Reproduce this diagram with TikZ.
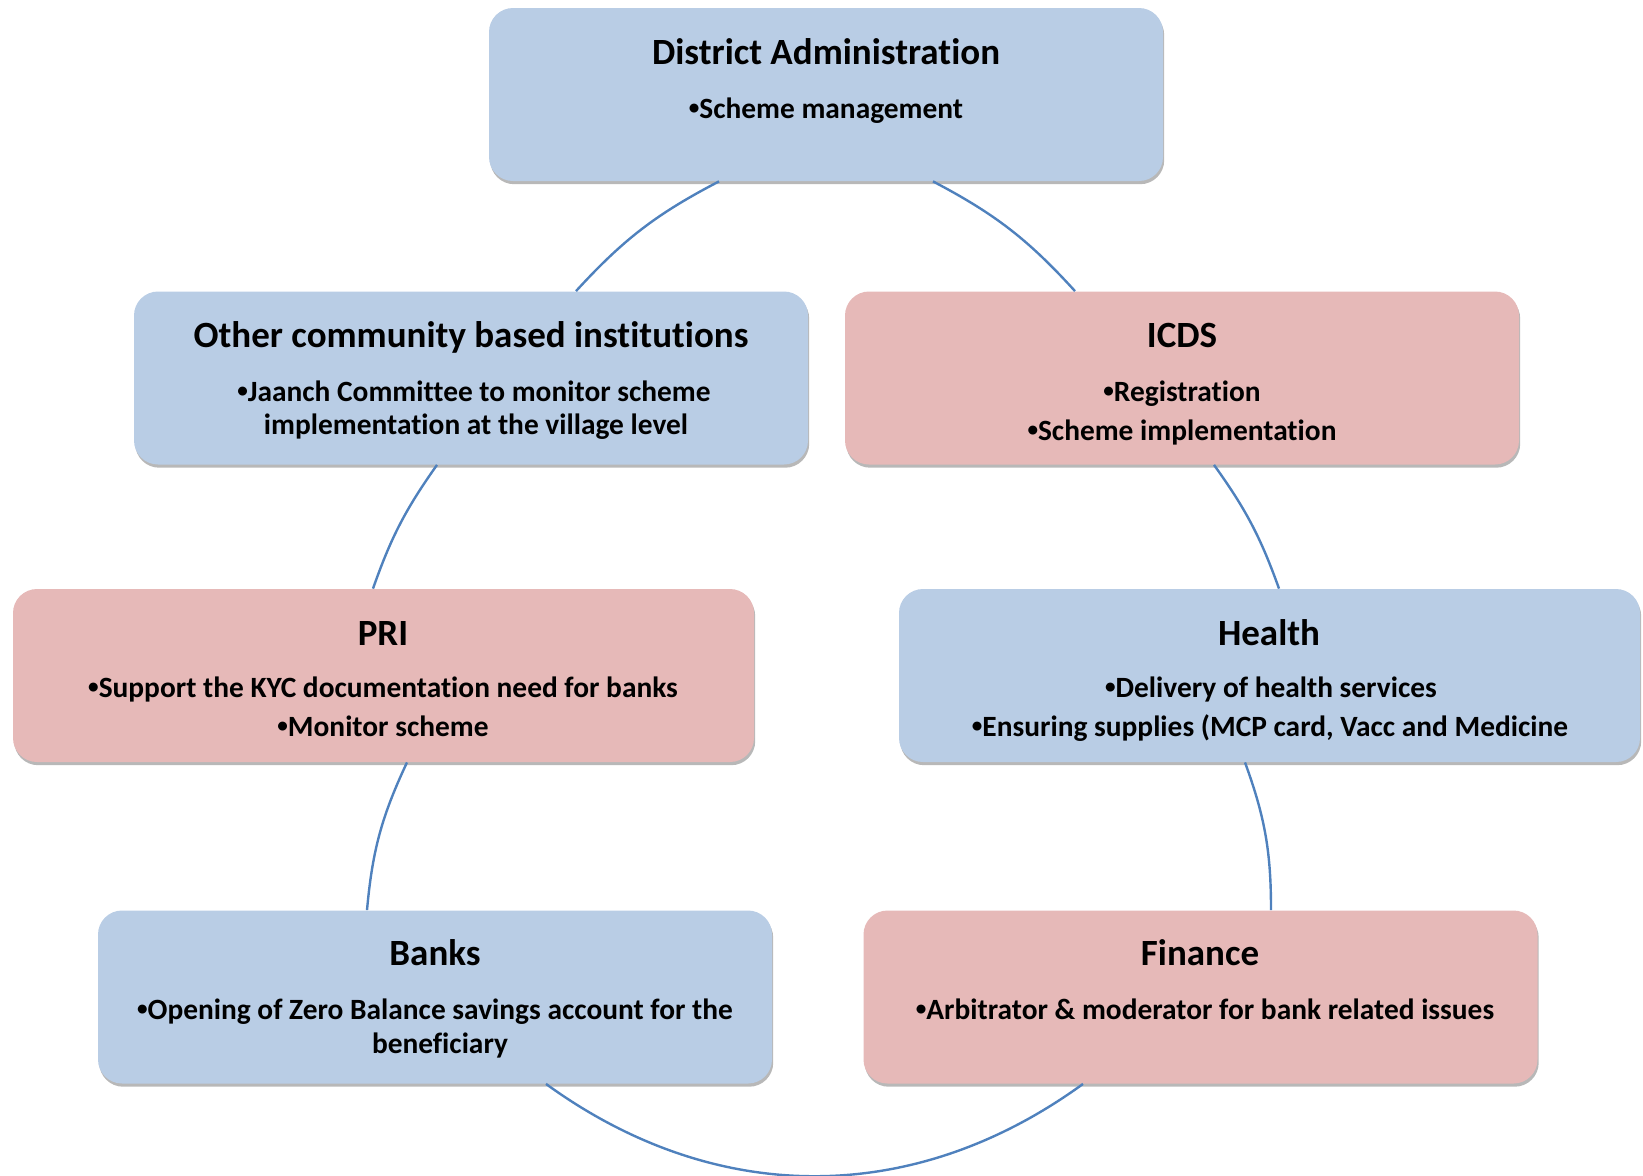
\documentclass[tikz,border=0pt]{standalone}
\usepackage{fontspec}
\setmainfont{Carlito}[Ligatures={TeX,NoCommon}, RawFeature={-liga;-calt;-dlig}]
\usetikzlibrary{shadows,calc}
\definecolor{boxblue}{HTML}{B9CDE5}
\definecolor{boxpink}{HTML}{E6B9B8}
\definecolor{linkblue}{HTML}{4F81BD}
\newcommand\bul{\raisebox{0.12em}{\scalebox{0.72}{•}}}
\tikzset{
  card/.style={rectangle, rounded corners=12pt, inner sep=0pt, draw=none,
    drop shadow={shadow xshift=0.6pt, shadow yshift=-1.6pt, fill=black, opacity=0.28}},
  bluecard/.style={card, fill=boxblue},
  pinkcard/.style={card, fill=boxpink},
  wide/.style={minimum width=337pt, minimum height=86.5pt},
  wider/.style={minimum width=370.5pt, minimum height=86.5pt},
  ttl/.style={anchor=base, inner sep=0pt, font=\fontsize{18.5}{22}\selectfont\bfseries},
  bdy/.style={anchor=base, inner sep=0pt, font=\fontsize{14.7}{17}\selectfont\bfseries},
  link/.style={draw=linkblue, line width=1.2pt}
}
\begin{document}
\begin{tikzpicture}[x=0.5pt,y=-0.5pt]
\useasboundingbox (0,0) rectangle (1643,1175);
% boxes
\node[bluecard, wide] (dist) at (826,94.5) {};
\node[bluecard, wide] (other) at (471,378) {};
\node[pinkcard, wide] (icds) at (1182,378) {};
\node[pinkcard, wider] (pri) at (383.5,675.5) {};
\node[bluecard, wider] (health) at (1269.5,675.5) {};
\node[bluecard, wide] (banks) at (435,997) {};
\node[pinkcard, wide] (fin) at (1200.5,997) {};
% texts
\node[ttl] (distT) at (826,64) {District Administration};
\node[bdy] (distB1) at (826,118) {\bul Scheme management};
\node[ttl] (otherT) at (471,347) {Other community based institutions};
\node[bdy] (otherB1) at (474,401) {\bul Jaanch Committee to monitor scheme};
\node[bdy] (otherB2) at (476,434) {implementation at the village level};
\node[ttl] (icdsT) at (1182,347) {ICDS};
\node[bdy] (icdsB1) at (1182,401) {\bul Registration};
\node[bdy] (icdsB2) at (1182,440) {\bul Scheme implementation};
\node[ttl] (priT) at (383,645) {PRI};
\node[bdy] (priB1) at (383,697) {\bul Support the KYC documentation need for banks};
\node[bdy] (priB2) at (383,736) {\bul Monitor scheme};
\node[ttl] (healthT) at (1269,645) {Health};
\node[bdy] (healthB1) at (1271,697) {\bul Delivery of health services};
\node[bdy] (healthB2) at (1270,736) {\bul Ensuring supplies (MCP card, Vacc and Medicine};
\node[ttl] (banksT) at (435,965) {Banks};
\node[bdy] (banksB1) at (435,1019) {\bul Opening of Zero Balance savings account for the};
\node[bdy] (banksB2) at (440,1053) {beneficiary};
\node[ttl] (finT) at (1200,965) {Finance};
\node[bdy] (finB1) at (1205,1019) {\bul Arbitrator \& moderator for bank related issues};
% connectors
\draw[link] ($(dist.south)+(-107,0)$) to[bend right=10] ($(other.north)+(105,0)$);
\draw[link] ($(dist.south)+(107,0)$) to[bend left=10] ($(icds.north)+(-107,0)$);
\draw[link] ($(other.south)+(-34,0)$) to[bend right=8] ($(pri.north)+(-10.5,0)$);
\draw[link] ($(icds.south)+(32,0)$) to[bend left=8] ($(health.north)+(9.5,0)$);
\draw[link] ($(pri.south)+(23.5,0)$) to[bend right=10] ($(banks.north)+(-68,0)$);
\draw[link] ($(health.south)+(-24.5,0)$) to[bend left=10] ($(fin.north)+(70.5,0)$);
\draw[link] ($(banks.south)+(111,0)$) to[bend right=36] ($(fin.south)+(-117.5,0)$);
\end{tikzpicture}
\end{document}
